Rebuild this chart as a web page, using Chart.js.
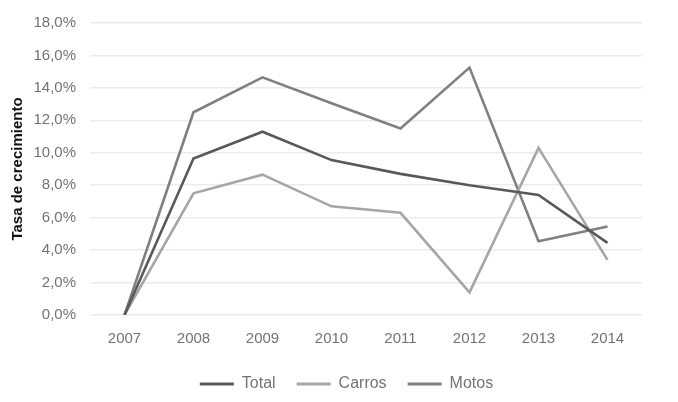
<!DOCTYPE html>
<html>
<head>
<meta charset="utf-8">
<script src="https://cdn.jsdelivr.net/npm/chart.js@4"></script>
<style>
  html, body { margin: 0; padding: 0; background: #fff; }
  #wrap { width: 678px; height: 402px; }
</style>
</head>
<body>
<div id="wrap"><canvas id="myChart"></canvas></div>
<script>
const years = ['2007', '2008', '2009', '2010', '2011', '2012', '2013', '2014'];
const total = [0, 9.65, 11.3, 9.55, 8.7, 8.0, 7.4, 4.45];
const carros = [0, 7.5, 8.65, 6.7, 6.3, 1.4, 10.3, 3.4];
const motos = [0, 12.5, 14.65, 13.05, 11.5, 15.25, 4.55, 5.45];

const fmt = v => v.toFixed(1).replace('.', ',') + '%';

const data = {
    labels: years,
    datasets: [
        { label: 'Total', data: total, borderColor: '#595959', backgroundColor: '#595959' },
        { label: 'Carros', data: carros, borderColor: '#a6a6a6', backgroundColor: '#a6a6a6' },
        { label: 'Motos', data: motos, borderColor: '#808080', backgroundColor: '#808080' }
    ]
};

Chart.defaults.font.family = '"Liberation Sans", Arial, sans-serif';
Chart.defaults.color = '#737373';

// legend in the original sits a bit right of the plot centre
const shiftLegend = {
    id: 'shiftLegend',
    afterLayout: chart => {
        chart.legend.left += 23;
        chart.legend.right += 23;
    }
};

const config = {
    type: 'line',
    data: data,
    options: {
        responsive: true,
        maintainAspectRatio: false,
        animation: false,
        layout: { padding: { top: 6, right: 36, bottom: 0, left: 5 } },
        elements: {
            line: { borderWidth: 2.6, tension: 0 },
            point: { radius: 0 }
        },
        scales: {
            x: {
                offset: true,
                grid: { display: false },
                border: { display: false },
                ticks: { font: { size: 15 }, padding: 7 }
            },
            y: {
                min: 0,
                max: 18,
                afterFit: scale => { scale.width = 85; },
                ticks: { stepSize: 2, font: { size: 15 }, padding: 14, callback: v => fmt(v) },
                grid: { color: '#ececec', lineWidth: 1.5, drawTicks: false },
                border: { display: false },
                title: {
                    display: true,
                    text: 'Tasa de crecimiento',
                    color: '#111',
                    font: { size: 15, weight: 'bold' },
                    padding: 4
                }
            }
        },
        plugins: {
            legend: {
                position: 'bottom',
                labels: {
                    boxWidth: 34,
                    boxHeight: 3,
                    padding: 21,
                    font: { size: 16 },
                    generateLabels: chart => Chart.defaults.plugins.legend.labels.generateLabels(chart)
                        .map(item => Object.assign(item, { lineWidth: 0, fillStyle: item.strokeStyle }))
                }
            },
            tooltip: { enabled: false }
        }
    },
    plugins: [shiftLegend]
};

const myChart = new Chart(document.getElementById('myChart'), config);
</script>
</body>
</html>
